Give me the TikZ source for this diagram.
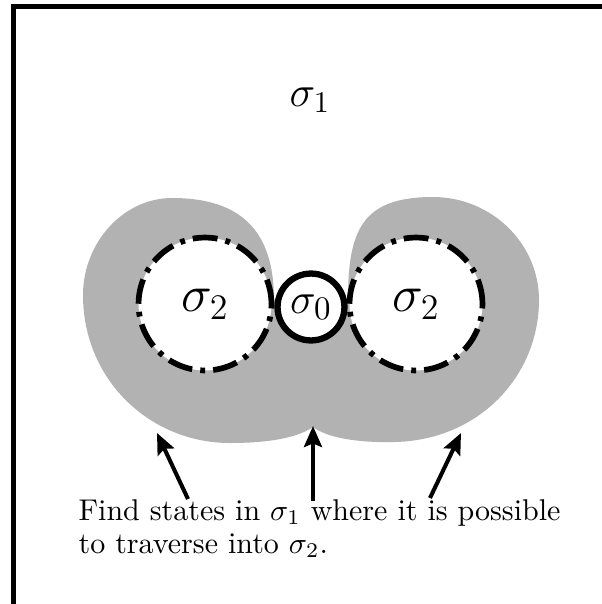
\documentclass[tikz,border=0pt]{standalone}
\usetikzlibrary{arrows.meta}
\begin{document}
\begin{tikzpicture}[x={(0.33333pt,0)},y={(0,-0.33333pt)},
  frame/.style={line width=1.7pt, line join=miter},
  blob/.style={fill=black!30, draw=none},
  bigstate/.style={circle, draw, fill=white, line width=1.9pt,
    dash pattern=on 8.3pt off 2.7pt on 1.6pt off 2.7pt,
    minimum size=44.3pt, inner sep=0pt, font=\LARGE},
  smallstate/.style={circle, draw, fill=white, line width=2.1pt,
    minimum size=22.3pt, inner sep=0pt, font=\fontsize{15.6}{19}\selectfont},
  pointer/.style={line width=1.35pt, -{Stealth[length=7pt,width=6pt,inset=1.2pt]}},
  caption/.style={anchor=base west, font=\fontsize{10}{11}\selectfont, inner sep=0pt}]
\useasboundingbox (0,0) rectangle (602,604);
\clip (0,0) rectangle (602,604);
% frame (only top and left edges inside the picture)
\draw[frame] (13.5,640) -- (13.5,6.5) -- (640,6.5);
% label of the outer state
\node[font=\Large] (s1) at (310,100) {$\sigma_1$};
% grey region
\path[blob] (274,300)
  .. controls (274,235) and (245,198) .. (172,198)
  .. controls (123,198) and (83,243) .. (83,295)
  .. controls (83,380) and (150,443) .. (230,443)
  .. controls (275,443) and (300,436) .. (313,427)
  .. controls (326,437) and (355,443) .. (395,442)
  .. controls (480,440) and (539,375) .. (539,300)
  .. controls (539,243) and (491,197) .. (433,197)
  .. controls (362,197) and (348,230) .. (348,300)
  -- cycle;
% states
\node[bigstate] (s2l) at (205,304) {$\sigma_2$};
\node[bigstate] (s2r) at (416,304) {$\sigma_2$};
\node[smallstate] (s0) at (311,307) {$\sigma_0$};
% caption
\node[caption] (cap1) at (78,520) {Find states in $\sigma_1$ where it is possible};
\node[caption] (cap2) at (78,553) {to traverse into $\sigma_2$.};
% arrows
\coordinate (t1) at (188,499);
\coordinate (h1) at (157,433);
\coordinate (t2) at (313,501);
\coordinate (h2) at (313,426);
\coordinate (t3) at (430,498);
\coordinate (h3) at (461,433);
\draw[pointer] (t1) -- (h1);
\draw[pointer] (t2) -- (h2);
\draw[pointer] (t3) -- (h3);
\end{tikzpicture}
\end{document}
